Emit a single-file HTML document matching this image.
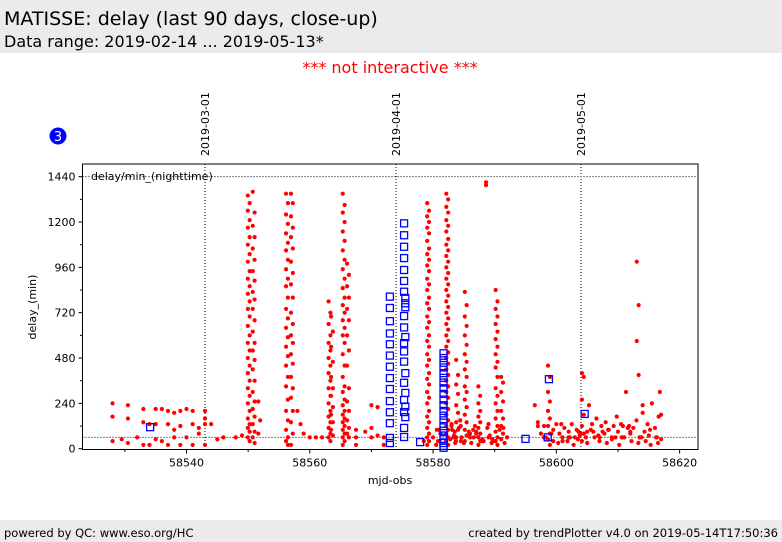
<!DOCTYPE html>
<html><head><meta charset="utf-8"><style>
html,body{margin:0;padding:0;background:#fff;}
svg{display:block;font-family:"DejaVu Sans","Liberation Sans",sans-serif;}
</style></head><body>
<svg id="chart" width="782" height="542" viewBox="0 0 782 542">
<rect x="0" y="0" width="782" height="53" fill="#ebebeb"/>
<text x="4" y="25" font-size="19" fill="#000">MATISSE: delay (last 90 days, close-up)</text>
<text x="4" y="47" font-size="16" fill="#000">Data range: 2019-02-14 ... 2019-05-13*</text>
<text x="390" y="73" font-size="16" fill="#ff0000" text-anchor="middle">*** not interactive ***</text>
<circle cx="58" cy="136" r="8.5" fill="#0000ff"/>
<text x="58" y="141" font-size="13" fill="#fff" text-anchor="middle">3</text>
<g id="plot"></g>
<text x="390" y="484" font-size="11" text-anchor="middle">mjd-obs</text>
<text x="0" y="0" font-size="11" text-anchor="middle" transform="translate(36,307) rotate(-90)">delay_(min)</text>
<rect x="0" y="520" width="782" height="22" fill="#ebebeb"/>
<text x="4" y="537" font-size="11.5">powered by QC: www.eso.org/HC</text>
<text x="778" y="537" font-size="11.5" text-anchor="end">created by trendPlotter v4.0 on 2019-05-14T17:50:36</text>
</svg>
<script>
const xTicks=[58540,58560,58580,58600,58620];
const yTicks=[0,240,480,720,960,1200,1440];
const dateMarkers=[58543,58574,58604];
const dateLabels=["2019-03-01","2019-04-01","2019-05-01"];
const refLine=60;
const redColMjd=[58550.1,58550.9,58551.8,58556.3,58557.1,58563.2,58563.6,58565.5,58566.2,58579.2,58582.3,58583.9,58585.3,58587.5,58590.3,58591.2,58598.8,58604.3,58613.2];
const redColVals=[
[1340,1300,1260,1210,1170,1120,1080,1030,990,940,900,860,820,780,740,700,650,600,560,520,480,440,400,360,320,280,240,200,160,130,110,90,60,40],
[1360,1250,1180,1120,1060,1000,940,890,830,790,740,680,620,560,520,470,420,360,300,250,210,170,130,90,60,30],
[250,150,80],
[1350,1300,1240,1190,1140,1090,1050,1000,950,900,860,800,740,690,640,590,540,490,440,380,330,260,200,150,100,60,40,20],
[1350,1300,1230,1170,1120,1060,990,930,870,800,720,660,600,560,500,450,380,320,270,200,140,80,20],
[780,720,660,600,560,520,480,440,400,360,320,280,240,200,170,140,110,80,60,40],
[700,620,540,460,380,320,280,220,180,140,100,70],
[1350,1290,1250,1200,1150,1100,1050,1000,950,900,850,800,760,720,680,640,600,560,500,440,380,330,300,260,230,200,180,160,140,120,100,80,60,40,20],
[980,920,860,800,740,680,600,520,440,320,250,200,150,110,80,60],
[1300,1260,1230,1200,1170,1140,1100,1060,1030,1000,970,940,900,870,840,800,770,740,700,670,640,600,570,540,500,470,440,400,370,340,300,270,240,200,170,140,110,80,60,40,20],
[1350,1320,1280,1250,1210,1180,1150,1110,1080,1050,1020,990,960,930,900,870,840,810,780,750,720,690,660,630,600,570,540,510,480,450,420,390,360,330,300,270,240,210,180,150,120,100,80,60,40,20],
[470,390,340,290,230,190,140,100,60],
[830,760,700,650,600,550,500,460,420,380,330,300,260,220,180,140,100,70,40],
[330,280,240,200,170,140,110,80,60,40,20],
[840,780,740,700,660,620,580,540,500,460,430,380,320,280,240,200,160,120,90,60,40,20],
[380,350,300,250,200,160,120,80,50],
[440,380,300,250,200,160,120,80,50,20],
[400,380,260,180,120,80,40],
[990,760,570,390]
];
const redMjd=[58528,58528,58528,58529.5,58530.5,58530.5,58530.5,58532,58533,58533,58533,58534,58534,58535,58535,58535,58536,58536,58537,58537,58537,58538,58538,58538,58539,58539,58539,58540,58540,58541,58541,58541,58542,58542,58543,58543,58543,58543,58544,58545,58546,58548,58549,
58558,58558.5,58559,58560,58561,58562,58567.5,58567.5,58567.5,58569,58570,58570,58570,58571,58571,58572,58572,58578.5,58580,58581,58583,58583.3,58583.5,58584.5,58584.5,58586,58586.5,58587,58588,58588.6,58588.6,58589,58589.5,
58596.5,58597,58597.5,58598,58598.3,58599.5,58600,58600.5,58601,58601.3,58601.8,58602,58602.5,58603,58603.3,58603.8,58604.8,58605.3,58605.8,58606,58606.5,58607,58607.3,58607.8,58608,58608.5,58609,58609.3,58609.8,58610,58610.5,58611,58611.3,58611.8,58612,58612.5,58613,58613.5,58614,58614.3,58614.8,58615,58615.5,58616,58616.3,58616.8,58617,
58597,58598,58599.5,58600.3,58601,58602,58602.8,58603.5,58605,58606.2,58607,58608.2,58609,58610.2,58611,58612.2,58613.3,58614.5,58615.3,58616.5,58617,
58580.5,58580.8,58581.2,58582.8,58583.1,58583.4,58583.7,58584.2,58584.6,58585.8,58586.2,58586.6,58587,58588.2,58588.8,58589.2,58589.6,58590.8,58591.6,58592,
58580.6,58581,58583,58583.6,58584.4,58585,58586,58586.8,58588,58589,58589.8,58591.4,
58599.2,58600.8,58602.2,58603.6,58605.6,58606.8,58608.4,58609.6,58610.8,58612,58613.8,58615.2,58616.2,58604,58605,58607.5,58610.6,58611.6,58614,58616.6];
const redDelay=[240,170,40,50,230,160,30,60,210,140,20,130,20,210,130,50,210,40,200,130,20,190,100,60,200,120,20,210,60,200,130,20,110,80,200,160,130,20,130,50,60,60,70,
200,130,80,60,60,60,100,60,20,90,230,110,60,220,70,60,20,40,60,100,130,60,90,40,120,60,100,80,40,1410,1395,60,30,
230,140,80,120,60,100,130,80,60,110,40,90,130,60,100,70,60,230,130,90,160,60,120,80,140,100,60,120,170,90,130,60,300,120,80,110,150,60,230,90,130,70,240,110,60,300,180,120,60,
40,30,40,60,20,50,30,60,40,30,50,20,60,40,30,40,20,30,50,20,40,
80,50,100,70,40,110,60,90,30,60,90,40,110,70,50,100,30,60,100,40,
120,30,150,30,80,120,50,130,40,110,80,130,
60,90,100,70,100,60,120,90,60,100,60,80,90,90,60,110,190,170,200,150];
const blueMjd=[58534.1,58573,58573,58573,58573,58573,58573,58573,58573,58573,58573,58573,58573,58573,58573,
58575.3,58575.3,58575.3,58575.3,58575.3,58575.3,58575.3,58575.5,58575.5,58575.5,58575.3,58575.3,58575.5,58575.3,58575.3,58575.3,58575.5,58575.3,58575.5,58575.3,58575.5,58575.3,58575.5,58575.3,58575.3,58577.9,
58581.7,58581.7,58581.7,58581.7,58581.7,58581.7,58581.7,58581.7,58581.7,58581.7,58581.7,58581.7,58581.7,58581.7,58581.7,58581.7,58581.7,58581.7,58581.7,58581.7,58581.7,
58595,58598.8,58598.6,58604.6];
const blueDelay=[114,805,745,675,610,553,493,434,374,316,252,193,135,57,30,
1193,1130,1069,1009,946,888,831,798,770,749,702,642,591,559,515,461,400,349,295,258,223,194,167,110,62,35,
505,480,455,430,400,375,350,320,290,260,230,200,175,150,120,95,70,50,30,15,5,
52,368,60,184];

const NS='http://www.w3.org/2000/svg';
const L=82.5,R=698,T=164,B=449.5;
const mjdMin=58540-(186.5-L)/6.164, mjdMax=58540+(R-186.5)/6.164;
const yMin=0-(B-448.7)/0.1889, yMax=(448.7-T)/0.1889;
function sx(m){return L+(m-mjdMin)/(mjdMax-mjdMin)*(R-L);}
function sy(v){return B-(v-yMin)/(yMax-yMin)*(B-T);}
const plot=document.getElementById('plot');
function mk(tag,attrs,parent){const e=document.createElementNS(NS,tag);for(const k in attrs)e.setAttribute(k,attrs[k]);(parent||plot).appendChild(e);return e;}

const frame=mk('rect',{x:L,y:T,width:R-L,height:B-T,fill:'#fff',stroke:'#000','stroke-width':1});



const ref=mk('line',{x1:L,x2:R,y1:sy(refLine),y2:sy(refLine),stroke:'#000','stroke-width':1,'stroke-dasharray':'1,2'});


const top1440=mk('line',{x1:L,x2:R,y1:sy(1440),y2:sy(1440),stroke:'#000','stroke-width':1,'stroke-dasharray':'1,2'});



dateMarkers.forEach((m,i)=>{
  const x=sx(m);
  const ln=mk('line',{x1:x,x2:x,y1:T,y2:B,stroke:'#000','stroke-width':1,'stroke-dasharray':'1,2'});
  
  
  const t=mk('text',{x:0,y:0,'font-size':11,'text-anchor':'start',transform:`translate(${x+4},${T-8}) rotate(-90)`});
  t.textContent=dateLabels[i];
  
  
});

xTicks.forEach(v=>{
  const x=sx(v);
  const tk=mk('line',{x1:x,x2:x,y1:B,y2:B+4,stroke:'#000'});
  
  
  const t=mk('text',{x:x,y:B+17,'font-size':11,'text-anchor':'middle'});
  t.textContent=v;
  
  
});
for(let m=58530;m<=58620;m+=10){
  if(xTicks.includes(m))continue;
  const x=sx(m);
  const tk=mk('line',{x1:x,x2:x,y1:B,y2:B+2.5,stroke:'#000'});
  
  
}
yTicks.forEach(v=>{
  const y=sy(v);
  const tk=mk('line',{x1:L-4,x2:L,y1:y,y2:y,stroke:'#000'});
  
  
  const t=mk('text',{x:L-7,y:y+4,'font-size':11,'text-anchor':'end'});
  t.textContent=v;
  
  
});
for(let v=120;v<1500;v+=240){
  const y=sy(v);
  const tk=mk('line',{x1:L-2.5,x2:L,y1:y,y2:y,stroke:'#000'});
  
  
}
const lab=mk('text',{x:91,y:180,'font-size':11});
lab.textContent='delay/min_(nighttime)';



const gRed=mk('g',{fill:'#ff0000'});


function redDot(m,v){
  const c=mk('circle',{cx:sx(m),cy:sy(v),r:2.1},gRed);
  
  
}
redColMjd.forEach((m,i)=>redColVals[i].forEach((v,j)=>redDot(m+((j%2)?0.15:-0.15),v)));
redMjd.forEach((m,i)=>redDot(m,redDelay[i]));

const gBlue=mk('g',{fill:'none',stroke:'#0000ff','stroke-width':1.3});


blueMjd.forEach((m,i)=>{
  const s=mk('rect',{x:sx(m)-3.5,y:sy(blueDelay[i])-3.5,width:7,height:7},gBlue);
  
  
});
</script>
</body></html>
